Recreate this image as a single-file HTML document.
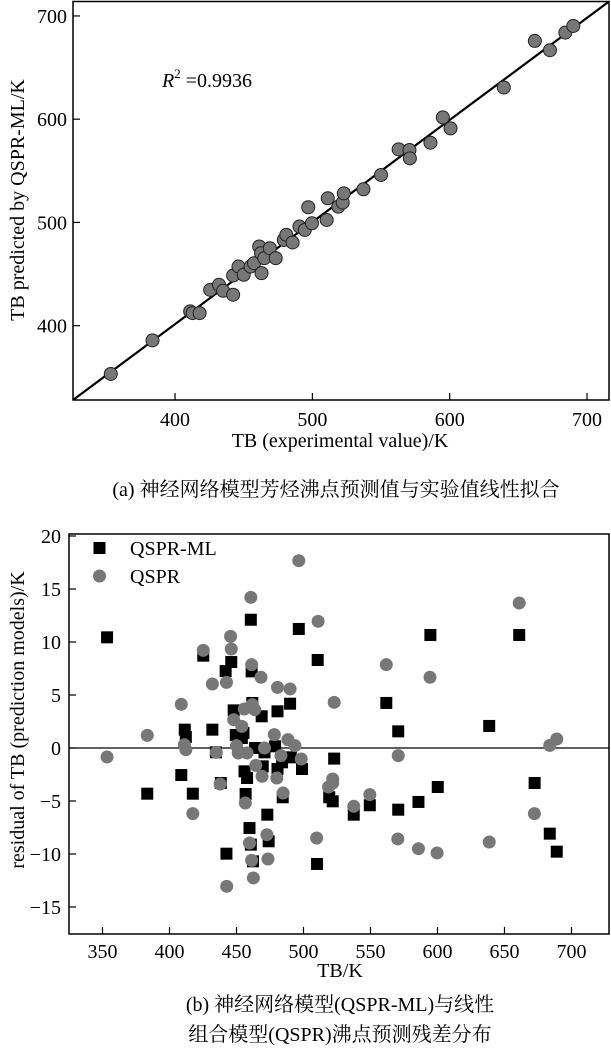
<!DOCTYPE html>
<html><head><meta charset="utf-8">
<style>
html,body{margin:0;padding:0;background:#fff;}
svg{display:block;font-family:"Liberation Serif","Noto Serif CJK SC","Noto Sans CJK SC",serif;}
</style></head>
<body>
<svg id="chart" width="611" height="1052" viewBox="0 0 611 1052" xmlns="http://www.w3.org/2000/svg">
<g id="top"></g>
<g id="bot"></g>
<text x="336" y="496" font-size="20" text-anchor="middle">(a) 神经网络模型芳烃沸点预测值与实验值线性拟合</text>
<text x="340" y="1011" font-size="20" text-anchor="middle">(b) 神经网络模型(QSPR-ML)与线性</text>
<text x="340" y="1041" font-size="20" text-anchor="middle">组合模型(QSPR)沸点预测残差分布</text>
</svg>
<script>
// ---- top chart data ----
const expTB = [353.2,383.6,411,412.8,417.9,425.6,432,435,442.3,442.3,446.2,450,455,457.5,461.3,462.6,463,465,469,473.3,479.2,481,485.6,490.6,494.5,497,499.7,510.4,511.2,518.9,522.1,522.9,537.2,550,562.8,570.7,571,586,595,600.6,639.4,662,673,684.2,690];
const predTB = [353.2,385.8,413.8,412.2,412.2,434.7,439.6,433.8,430,448.6,457.3,449.3,457.3,460.5,476.7,470.2,450.9,465.4,475,465.4,483.1,488,480.6,496,492.8,514.7,499.2,502.4,523.4,515.3,519.2,528.2,532.1,546,570.8,570.1,562.1,577.2,601.7,591.1,630.7,675.8,666.8,683.9,690.3];
const topTicks = [400,500,600,700];
const fitLine = [325.7,328,716,714];

// ---- bottom chart data ----
const mlX = [353.4,383.4,408.8,411.4,412.2,417.4,425.2,432,434.6,438.3,441.9,442.5,446.1,447.9,449.5,454,455.2,456,456.8,457.9,459.7,460.7,461.3,461.8,460.7,462.3,463.9,468.8,469.6,470.9,473,474,478.8,480.6,480.6,484,484.5,490,490.5,496.5,498.9,510.6,510.1,519.2,521.8,522.9,537.5,549.5,561.8,570.7,570.7,585.8,594.7,600.2,638.6,661,672.5,683.8,689];
const mlY = [10.44,-4.31,-2.55,1.73,1.04,-4.31,8.71,1.73,-0.41,-3.3,7.26,-9.97,8.11,3.55,1.23,0.94,1.42,-2.2,-4.34,-2.83,-7.55,12.1,7.23,4.25,-9.12,-10.69,0,2.99,-1.73,-0.41,-6.29,-8.8,0.16,3.46,-1.98,-1.35,-4.65,4.18,-0.88,11.23,-1.98,8.3,-10.94,-4.65,-5.03,-1.0,-6.29,-5.4,4.25,1.57,-5.82,-5.09,10.66,-3.68,2.08,10.66,-3.3,-8.08,-9.78];
const qX = [353.4,383.4,408.8,411.1,412.2,417.4,425.2,432,434.9,437.8,442.5,442.7,445.6,446.1,447.9,450,451.3,454,455.8,456.6,457.9,459.7,460.7,461.3,461.8,463.6,461.3,462.6,464.4,468.3,469.1,470.9,472.7,473.5,478.2,480.6,480.1,483.2,484.8,488.4,490,493.6,498.3,496.5,510.9,509.8,518.7,521.8,521.8,522.9,537.5,549.5,561.8,570.7,570.4,585.8,594.4,599.7,638.6,661,672.3,683.8,689];
const qY = [-0.85,1.19,4.12,0.31,-0.16,-6.19,9.21,6.04,-0.41,-3.4,6.19,-13.05,10.53,9.34,2.67,0.22,-0.47,2.04,3.68,-5.19,-0.47,-8.96,14.21,7.86,4.09,3.62,-10.6,-12.26,-1.64,6.67,-2.67,0,-8.18,-10.47,1.26,5.72,-2.83,-0.72,-4.25,0.79,5.57,0.22,-1.04,17.67,11.95,-8.49,-3.68,-2.92,-3.3,4.31,-5.5,-4.4,7.86,-0.72,-8.58,-9.5,6.67,-9.9,-8.87,13.68,-6.19,0.25,0.85];
const botXTicks = [350,400,450,500,550,600,650,700];
const botYTicks = [-15,-10,-5,0,5,10,15,20];

const NS='http://www.w3.org/2000/svg';
function mk(parent,tag,attrs){const e=document.createElementNS(NS,tag);for(const k in attrs)e.setAttribute(k,attrs[k]);parent.appendChild(e);return e;}

// ---------- TOP ----------
(function(){
const g=document.getElementById('top');
const L=73,R=609,T=1.5,B=400;
const x0=325.7,x1=716,y0=328,y1=714;
const sx=v=>L+(v-x0)/(x1-x0)*(R-L);
const sy=v=>B-(v-y0)/(y1-y0)*(B-T);
let e;
e=mk(g,'rect',{x:L,y:T,width:R-L,height:B-T,fill:'none',stroke:'#000','stroke-width':1.5});


const cp=mk(g,'clipPath',{id:'tc'});mk(cp,'rect',{x:L,y:T,width:R-L,height:B-T});
topTicks.forEach(t=>{
 e=mk(g,'line',{x1:sx(t),x2:sx(t),y1:B,y2:B-7,stroke:'#000','stroke-width':1.2});
 
 
 e=mk(g,'text',{x:sx(t),y:B+26,'font-size':20,'text-anchor':'middle'});e.textContent=t;
 
 
 e=mk(g,'line',{x1:L,x2:L+7,y1:sy(t),y2:sy(t),stroke:'#000','stroke-width':1.2});
 
 
 e=mk(g,'text',{x:L-6,y:sy(t)+7,'font-size':20,'text-anchor':'end'});e.textContent=t;
 
 
});
e=mk(g,'line',{x1:sx(fitLine[0]),y1:sy(fitLine[1]),x2:sx(fitLine[2]),y2:sy(fitLine[3]),stroke:'#000','stroke-width':2.2,'clip-path':'url(#tc)'});


expTB.forEach((v,i)=>{
 e=mk(g,'circle',{cx:sx(v),cy:sy(predTB[i]),r:6.5,fill:'#777',stroke:'#222','stroke-width':1});
 
 
});
e=mk(g,'text',{x:162,y:87,'font-size':20});
e.innerHTML='<tspan font-style="italic">R</tspan><tspan dy="-9" font-size="13">2</tspan><tspan dy="9"> =0.9936</tspan>';


e=mk(g,'text',{x:340,y:447,'font-size':20,'text-anchor':'middle'});e.textContent='TB (experimental value)/K';


e=mk(g,'text',{x:0,y:0,'font-size':20,'text-anchor':'middle',transform:'translate(24,200) rotate(-90)'});e.textContent='TB predicted by QSPR-ML/K';


})();

// ---------- BOTTOM ----------
(function(){
const g=document.getElementById('bot');
const L=69,R=609,T=534,B=934;
const x0=325,x1=728;
const sx=v=>L+(v-x0)/(x1-x0)*(R-L);
const sy=v=>748-v*10.6;
let e;
e=mk(g,'rect',{x:L,y:T,width:R-L,height:B-T,fill:'none',stroke:'#000','stroke-width':1.5});


botXTicks.forEach(t=>{
 e=mk(g,'line',{x1:sx(t),x2:sx(t),y1:B,y2:B-7,stroke:'#000','stroke-width':1.2});
 
 
 e=mk(g,'text',{x:sx(t),y:B+24,'font-size':20,'text-anchor':'middle'});e.textContent=t;
 
 
});
botYTicks.forEach(t=>{
 e=mk(g,'line',{x1:L,x2:L+7,y1:sy(t),y2:sy(t),stroke:'#000','stroke-width':1.2});
 
 
 e=mk(g,'text',{x:L-8,y:sy(t)+7,'font-size':20,'text-anchor':'end'});e.textContent=(t<0?'\u2212'+(-t):t);
 
 
});
e=mk(g,'line',{x1:L,x2:R,y1:sy(0),y2:sy(0),stroke:'#000','stroke-width':1.2});


mlX.forEach((v,i)=>{
 e=mk(g,'rect',{x:sx(v)-6,y:sy(mlY[i])-6,width:12,height:12,fill:'#000'});
 
 
});
qX.forEach((v,i)=>{
 e=mk(g,'circle',{cx:sx(v),cy:sy(qY[i]),r:6.5,fill:'#777'});
 
 
});
e=mk(g,'rect',{x:93.5,y:542,width:12,height:12,fill:'#000'});


e=mk(g,'text',{x:130,y:555,'font-size':20});e.textContent='QSPR-ML';


e=mk(g,'circle',{cx:99.5,cy:576,r:6.5,fill:'#777'});


e=mk(g,'text',{x:130,y:583,'font-size':20});e.textContent='QSPR';


e=mk(g,'text',{x:340,y:977,'font-size':20,'text-anchor':'middle'});e.textContent='TB/K';


e=mk(g,'text',{x:0,y:0,'font-size':20,'text-anchor':'middle',transform:'translate(24,720) rotate(-90)'});e.textContent='residual of TB (prediction models)/K';


})();
</script>
</body></html>
